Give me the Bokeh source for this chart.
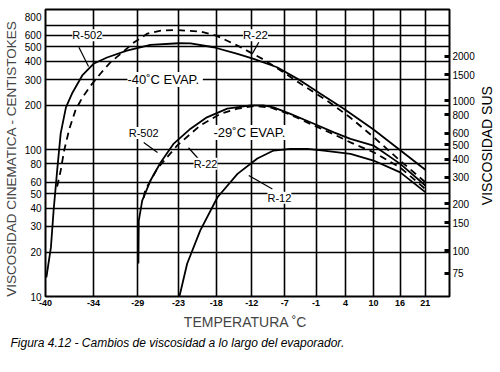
import math
from bokeh.plotting import figure
from bokeh.layouts import row
from bokeh.models import FixedTicker, LogAxis, Label, Range1d, Grid, Title
from bokeh.embed import file_html
from bokeh.resources import INLINE

# ---------------- data ----------------
# x axis: ticks every 10 °F, labelled in °C
temp_ticks_f = [-40, -30, -20, -10, 0, 10, 20, 30, 40, 50, 60, 70]
temp_tick_labels = ["-40", "-34", "-29", "-23", "-18", "-12", "-7", "-1", "4", "10", "16", "21"]
temp_range_f = [-40, 80]

# left axis: kinematic viscosity (cSt)
visc_ticks = [10, 20, 30, 40, 50, 60, 80, 100, 200, 300, 400, 500, 600, 800]
visc_grid = [10, 20, 30, 40, 50, 60, 80, 100, 200, 300, 400, 500, 600, 700]
visc_range = [10, 900]

# right axis: Saybolt universal seconds
sus_ticks = [75, 100, 150, 200, 300, 400, 500, 600, 800, 1000, 1500, 2000]

# curves: temperature (°C) / viscosity (cSt)
r502_m40_t = [-39.9, -39.4, -39.1, -38.7, -38.3, -37.7, -37.0, -35.8, -34.4, -32.8, -30.3, -27.2,
              -23.3, -21.6, -18.2, -14.5, -11.9, -8.0, -3.9, -0.3, 4.1, 10.0, 15.6, 21.1]
r502_m40_v = [13.5, 21.6, 38.5, 72, 129, 194, 241, 320, 386, 424, 473, 517,
              530, 529, 498, 449, 415, 364, 295, 240, 190, 137, 99, 73]

r22_m40_t = [-38.7, -38.3, -37.9, -37.3, -36.6, -35.8, -34.8, -33.6, -32.4, -30.9, -29.4, -27.6,
             -25.8, -23.5, -20.2, -17.8, -14.5, -12.4, -10.3, -7.4, -3.9, 0.9, 5.4, 10.0, 15.6, 21.1]
r22_m40_v = [56, 72, 99, 139, 185, 226, 273, 330, 392, 458, 536, 617,
             647, 652, 637, 598, 511, 458, 411, 346, 281, 216, 165, 122, 84, 60]

r502_m29_t = [-28.8, -28.75, -28.3, -27.2, -25.8, -24.0, -21.6, -19.2, -16.1, -12.4, -10.3, -8.6,
              -5.7, -1.5, 2.2, 5.4, 10.0, 15.6, 21.1]
r502_m29_v = [16.8, 32.9, 45, 61.6, 82, 110, 139, 166, 190, 200, 200, 194,
              175, 150, 131, 118.5, 106.6, 80, 57]

r22_m29_t = [-28.1, -27.9, -26.3, -23.5, -20.2, -17.2, -14.5, -11.9, -9.1, -5.7, -1.5, 2.2,
             5.4, 10.0, 15.6, 21.1]
r22_m29_v = [47, 53, 74, 107, 146, 175, 190, 198, 194, 173, 146, 127,
             112, 96, 75.5, 54]

r12_t = [-23.2, -22.1, -20.2, -17.6, -14.5, -11.3, -8.6, -5.7, -2.7, 0.3, 5.4, 10.0, 15.6, 21.1]
r12_v = [10, 16.7, 28.1, 47.4, 68.4, 87, 98.6, 101.3, 101.3, 98.6, 93.6, 84.3, 70, 51.4]

# ---------------- scale helpers ----------------
F_OFFSET = 146  # the chart's temperature scale is logarithmic in (°F + 146)


def to_axis(c):
    return c * 9.0 / 5.0 + 32.0 + F_OFFSET


def sus_from_cst(v):
    return 4.6324 * v + (1.0 + 0.03264 * v) / ((3930.2 + 262.7 * v + 23.97 * v ** 2 + 1.646 * v ** 3) * 1e-5)


def cst_from_sus(s):
    lo, hi = 1.0, 2000.0
    for _ in range(80):
        mid = (lo + hi) / 2
        if sus_from_cst(mid) < s:
            lo = mid
        else:
            hi = mid
    return round((lo + hi) / 2, 3)


FONT = "Liberation Sans"
W, H = 478, 370

p = figure(width=W, height=H, output_backend="svg", toolbar_location=None,
           x_axis_type="log", y_axis_type="log",
           x_range=Range1d(temp_range_f[0] + F_OFFSET, temp_range_f[1] + F_OFFSET),
           y_range=Range1d(visc_range[0], visc_range[1]),
           min_border_left=45, min_border_right=W - 449, min_border_top=9, min_border_bottom=H - 296)

p.background_fill_color = "white"
p.border_fill_color = "white"
p.outline_line_color = "black"
p.outline_line_width = 2

# grid (explicit)
x_tick_pos = [f + F_OFFSET for f in temp_ticks_f]
for g in list(p.xgrid) + list(p.ygrid):
    g.visible = False
p.add_layout(Grid(dimension=0, ticker=FixedTicker(ticks=x_tick_pos), grid_line_color="black",
                  grid_line_width=1.6, level="glyph"))
p.add_layout(Grid(dimension=1, ticker=FixedTicker(ticks=visc_grid), grid_line_color="black",
                  grid_line_width=1.6, level="glyph"))

# bottom axis
xa = p.xaxis[0]
xa.ticker = FixedTicker(ticks=x_tick_pos)
xa.major_label_overrides = {pos: lab for pos, lab in zip(x_tick_pos, temp_tick_labels)}
xa.axis_line_color = None
xa.major_tick_line_color = None
xa.minor_tick_line_color = None
xa.major_tick_out = 0
xa.major_tick_in = 0
xa.major_label_standoff = 3
xa.major_label_text_font = FONT
xa.major_label_text_font_size = "9px"
xa.major_label_text_font_style = "bold"
xa.major_label_text_color = "black"
xa.axis_label = "TEMPERATURA  ˚C"
xa.axis_label_text_font = FONT
xa.axis_label_text_font_size = "14px"
xa.axis_label_text_font_style = "normal"
xa.axis_label_standoff = 5

# left axis
ya = p.yaxis[0]
ya.ticker = FixedTicker(ticks=visc_ticks)
ya.major_label_overrides = {v: str(v) for v in visc_ticks}
ya.axis_line_color = None
ya.major_tick_line_color = None
ya.minor_tick_line_color = None
ya.major_tick_out = 0
ya.major_tick_in = 0
ya.major_label_standoff = 4
ya.major_label_text_font = FONT
ya.major_label_text_font_size = "10px"
ya.major_label_text_color = "black"
ya.axis_label = "VISCOSIDAD  CINEMATICA  -  CENTISTOKES"
ya.axis_label_text_font = FONT
ya.axis_label_text_font_size = "13.5px"
ya.axis_label_text_font_style = "normal"
ya.axis_label_standoff = 3

# right axis (SUS)
sus_pos = [cst_from_sus(s) for s in sus_ticks]
ra = LogAxis(ticker=FixedTicker(ticks=sus_pos))
ra.major_label_overrides = {pos: str(s) for pos, s in zip(sus_pos, sus_ticks)}
ra.axis_line_color = None
ra.minor_tick_line_color = None
ra.major_tick_in = 5
ra.major_tick_out = 0
ra.major_tick_line_width = 3
ra.major_tick_line_color = "black"
ra.major_label_standoff = 3
ra.major_label_text_font = FONT
ra.major_label_text_font_size = "10px"
ra.major_label_text_color = "black"
p.add_layout(ra, "right")

# curves
solid = dict(line_color="black", line_width=1.8)
dashed = dict(line_color="black", line_width=1.8, line_dash="7 5")
p.line([to_axis(t) for t in r502_m40_t], r502_m40_v, **solid)
p.line([to_axis(t) for t in r22_m40_t], r22_m40_v, **dashed)
p.line([to_axis(t) for t in r502_m29_t], r502_m29_v, **solid)
p.line([to_axis(t) for t in r22_m29_t], r22_m29_v, **dashed)
p.line([to_axis(t) for t in r12_t], r12_v, **solid)

# leader lines (°C, cSt)
leaders = [((-36.2, 498), (-35.05, 368)),
           ((-11.06, 538), (-12.14, 449)),
           ((-28.1, 112), (-26.25, 95.6)),
           ((-21.9, 103), (-20.5, 87)),
           ((-12.7, 66.6), (-8.8, 54))]
p.segment(x0=[to_axis(a[0]) for a, b in leaders], y0=[a[1] for a, b in leaders],
          x1=[to_axis(b[0]) for a, b in leaders], y1=[b[1] for a, b in leaders],
          line_color="black", line_width=1.2)

# curve labels (°C, cSt, text, size)
labels = [(-35.2, 600, "R-502", "11px"),
          (-11.6, 600, "R-22", "11.5px"),
          (-25.2, 300, "-40˚C  EVAP.", "13px"),
          (-28.1, 130, "R-502", "11px"),
          (-19.4, 80, "R-22", "11px"),
          (-12.3, 131, "-29˚C  EVAP.", "13px"),
          (-7.6, 47, "R-12", "11px")]
for t, v, txt, fs in labels:
    p.add_layout(Label(x=to_axis(t), y=v, text=txt, text_align="center", text_baseline="middle",
                       text_font=FONT, text_font_size=fs, text_color="black",
                       background_fill_color="white", background_fill_alpha=1.0))

caption = Title(text="Figura 4.12 - Cambios de viscosidad a lo largo del evaporador.",
                align="left", offset=-35, text_font=FONT, text_font_size="12px",
                text_font_style="italic", text_color="black", standoff=3)
p.add_layout(caption, "below")

# narrow strip to the right carrying the right-axis title (reads bottom-to-top)
p2 = figure(width=18, height=H, output_backend="svg", toolbar_location=None,
            x_axis_location=None, y_axis_location=None,
            x_range=Range1d(0, 18), y_range=Range1d(0, H), min_border=0)
p2.outline_line_color = None
p2.grid.visible = False
p2.background_fill_color = "white"
p2.border_fill_color = "white"
p2.add_layout(Label(x=8, y=H - 173, text="VISCOSIDAD  SUS", angle=math.pi / 2,
                    text_align="center", text_baseline="middle", text_font=FONT,
                    text_font_size="14px", text_color="black"))

layout = row(p, p2)
open("out.html", "w").write(file_html(layout, INLINE))
